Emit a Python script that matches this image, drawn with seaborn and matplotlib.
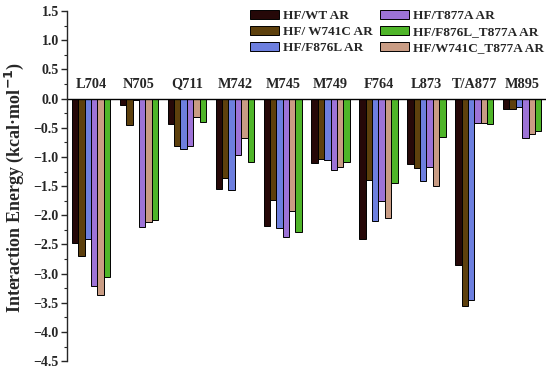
import matplotlib
matplotlib.use("Agg")
import matplotlib.pyplot as plt
import pandas as pd
import seaborn as sns
from matplotlib.ticker import MultipleLocator

# residues along the x axis
residues = ["L704", "N705", "Q711", "M742", "M745", "M749", "F764", "L873", "T/A877", "M895"]

# interaction energies (kcal/mol) per system
wt = [-2.47, -0.11, -0.44, -1.55, -2.18, -1.10, -2.41, -1.12, -2.85, -0.17]
w741c = [-2.69, -0.46, -0.82, -1.36, -1.73, -1.04, -1.40, -1.19, -3.56, -0.17]
f876l = [-2.41, -0.02, -0.87, -1.56, -2.22, -1.06, -2.09, -1.42, -3.46, -0.15]
t877a = [-3.21, -2.20, -0.81, -0.97, -2.37, -1.22, -1.76, -1.18, -0.41, -0.68]
w741c_t877a = [-3.37, -2.11, -0.31, -0.68, -1.92, -1.17, -2.05, -1.50, -0.41, -0.61]
f876l_t877a = [-3.05, -2.08, -0.40, -1.09, -2.28, -1.09, -1.44, -0.65, -0.44, -0.56]

systems = ["HF/WT AR", "HF/ W741C AR", "HF/F876L AR", "HF/T877A AR",
           "HF/W741C_T877A AR", "HF/F876L_T877A AR"]
series = [wt, w741c, f876l, t877a, w741c_t877a, f876l_t877a]
colors = ["#2b0303", "#6a4300", "#5a72f2", "#9a62e8", "#d49878", "#45cc12"]

rows = []
for name, vals in zip(systems, series):
    for res, v in zip(residues, vals):
        rows.append({"Residue": res, "System": name, "Energy": v})
df = pd.DataFrame(rows)

sns.set_style("ticks")
plt.rcParams["font.family"] = ["Liberation Serif", "DejaVu Serif"]
plt.rcParams["font.weight"] = "bold"

fig = plt.figure(figsize=(5.5, 3.7), dpi=100)
ax = fig.add_axes([0.122, 0.024, 0.871, 0.946])

sns.barplot(data=df, x="Residue", y="Energy", hue="System", order=residues,
            hue_order=systems, palette=colors, width=0.8, edgecolor="black",
            linewidth=0.7, ax=ax)

ax.set_ylim(-4.5, 1.5)
ax.set_xlim(-0.5, 9.5)
ax.yaxis.set_major_locator(MultipleLocator(0.5))
ax.yaxis.set_minor_locator(MultipleLocator(0.25))
ax.tick_params(axis="y", which="major", length=4, width=1, labelsize=10, direction="out", pad=2)
ax.tick_params(axis="y", which="minor", length=2, width=0.8, direction="out")
for lab in ax.get_yticklabels():
    lab.set_fontweight("bold")

ax.set_xticks([])
ax.set_xlabel("")
ax.set_ylabel("Interaction Energy (kcal·mol$^{\\mathbf{-1}}$)", fontsize=13,
              fontweight="bold")
ax.yaxis.set_label_coords(-0.085, 0.495)

for side in ["top", "right", "bottom"]:
    ax.spines[side].set_visible(False)
ax.spines["left"].set_linewidth(1)
ax.axhline(0, color="black", linewidth=1)

for i, res in enumerate(residues):
    ax.text(i, 0.19, res, ha="center", va="baseline", fontsize=10.3, fontweight="bold")

handles, labels = ax.get_legend_handles_labels()
order = [0, 1, 2, 3, 5, 4]
ax.legend([handles[i] for i in order], [labels[i] for i in order], ncol=2,
          loc="upper right", bbox_to_anchor=(1.014, 1.03), frameon=False,
          prop={"size": 9.5, "weight": "bold"}, handlelength=2.2, handleheight=0.7,
          handletextpad=0.3, columnspacing=0.5, labelspacing=0.3, borderpad=0.2)

fig.savefig("out.png", dpi=100)
